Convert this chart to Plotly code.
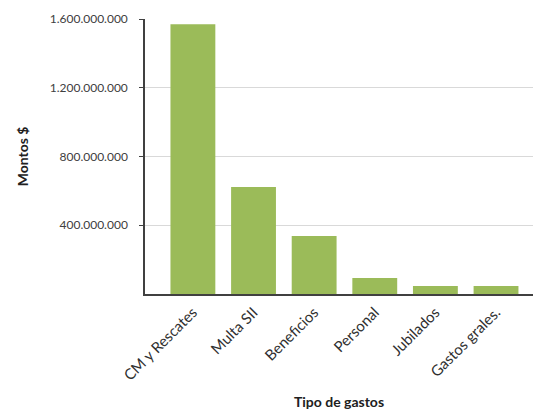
import plotly.graph_objects as go

categories = ["CM y Rescates", "Multa SII", "Beneficios", "Personal", "Jubilados", "Gastos grales."]
values = [1570000000, 622000000, 338000000, 93000000, 47000000, 46000000]
y_ticks = [400000000, 800000000, 1200000000, 1600000000]

fig = go.Figure(go.Bar(
    x=categories, y=values,
    marker=dict(color="#9BBB59", line=dict(width=0)),
    width=0.74,
))

font_family = "Lato, 'Open Sans', sans-serif"
fig.update_layout(
    width=538, height=413,
    margin=dict(l=145, r=5, t=19, b=119),
    paper_bgcolor="white", plot_bgcolor="white",
    separators=",.",
    showlegend=False,
    font=dict(family=font_family, color="#404040", size=12),
)
fig.update_xaxes(
    range=[-0.79, 5.61], automargin=False,
    showline=True, linecolor="#404040", linewidth=1.5,
    tickangle=-45, tickfont=dict(size=15, color="#303030"),
    ticks="", showgrid=False, ticklabelstandoff=2,
    title=dict(text="<b>Tipo de gastos</b>", font=dict(size=14, color="#202020"), standoff=14),
)
fig.update_yaxes(
    range=[0, 1600000000], automargin=False,
    tickvals=y_ticks, tickformat=",d",
    showline=True, linecolor="#404040", linewidth=1.5,
    ticks="outside", ticklen=4, tickcolor="#404040",
    showgrid=True, gridcolor="#d9d9d9", gridwidth=1,
    zeroline=False, ticklabelstandoff=9,
    tickfont=dict(size=12, color="#404040"),
    title=dict(text="<b>Montos $</b>", font=dict(size=14, color="#202020"), standoff=18),
)

fig.write_html("out.html")
